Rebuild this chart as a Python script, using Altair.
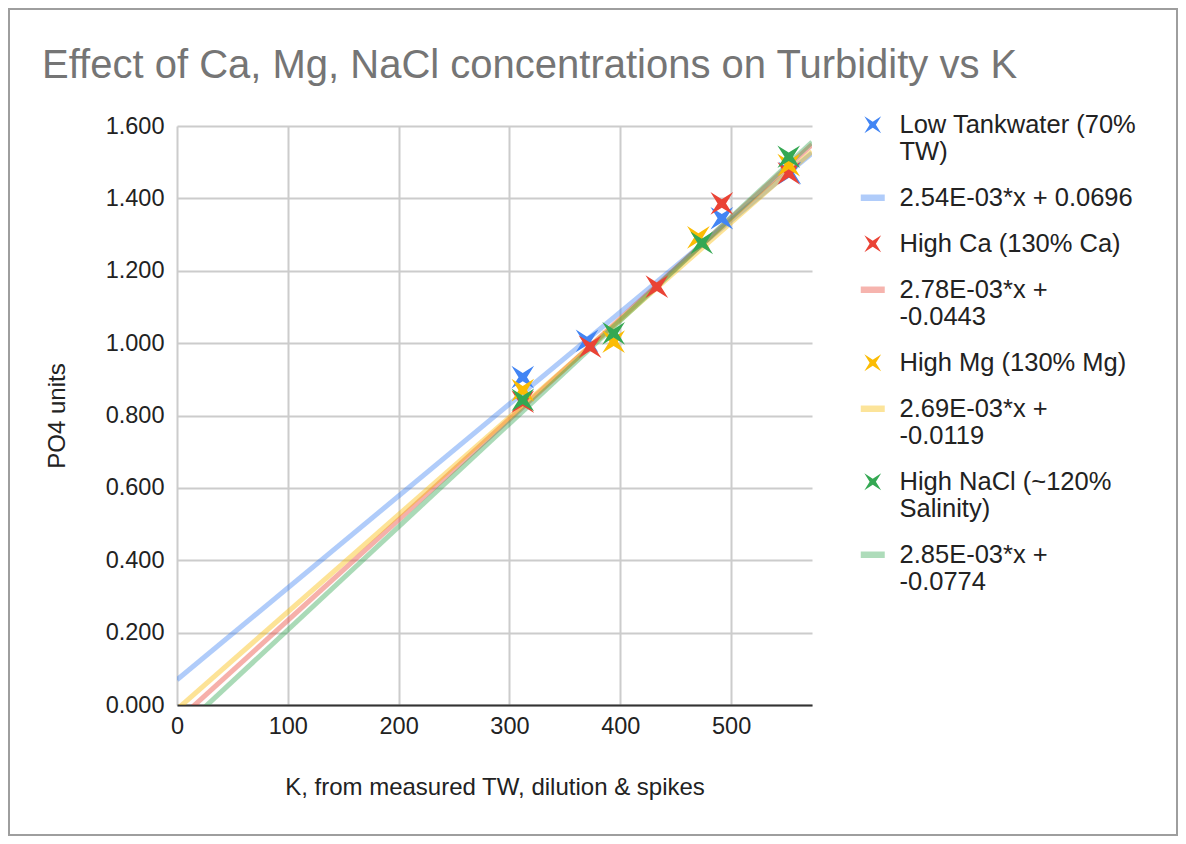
import altair as alt
import pandas as pd

# ---------------- data ----------------
series = ["Low Tankwater (70% TW)", "High Ca (130% Ca)", "High Mg (130% Mg)",
          "High NaCl (~120% Salinity)"]
series_legend = ["Low Tankwater (70%|TW)", "High Ca (130% Ca)", "High Mg (130% Mg)",
                 "High NaCl (~120%|Salinity)"]
eq_legend = ["2.54E-03*x + 0.0696", "2.78E-03*x +|-0.0443", "2.69E-03*x +|-0.0119",
             "2.85E-03*x +|-0.0774"]
slopes = [2.54e-3, 2.78e-3, 2.69e-3, 2.85e-3]
intercepts = [0.0696, -0.0443, -0.0119, -0.0774]

low_tw_k = [312, 370, 491.6, 553]
low_tw_po4 = [0.906, 1.006, 1.345, 1.470]
high_ca_k = [312, 372.7, 433, 491.6, 552]
high_ca_po4 = [0.838, 0.990, 1.156, 1.386, 1.469]
high_mg_k = [312, 394, 470.5, 552]
high_mg_po4 = [0.870, 1.004, 1.292, 1.492]
high_nacl_k = [312, 394, 473.5, 552]
high_nacl_po4 = [0.843, 1.027, 1.277, 1.515]

x_ticks = [0, 100, 200, 300, 400, 500]
y_ticks = [0, 0.2, 0.4, 0.6, 0.8, 1.0, 1.2, 1.4, 1.6]
x_max = 573
y_max = 1.6

base_colors = ["#4285F4", "#EA4335", "#FBBC04", "#34A853"]
light_colors = ["#B0CCFA", "#F6B4AE", "#FCE49A", "#AEDCBA"]

STAR = "M0,-0.26L0.7,-0.7L0.26,0L0.7,0.7L0,0.26L-0.7,0.7L-0.26,0L-0.7,-0.7Z"
BAR = "M-1,-0.27L1,-0.27L1,0.27L-1,0.27Z"

FONT = "Liberation Sans"

# ---------------- tables ----------------
ks = [low_tw_k, high_ca_k, high_mg_k, high_nacl_k]
pos = [low_tw_po4, high_ca_po4, high_mg_po4, high_nacl_po4]
rows = []
for name, kk, pp in zip(series_legend, ks, pos):
    for k, p in zip(kk, pp):
        rows.append({"name": name, "K": k, "PO4": p})
points_df = pd.DataFrame(rows)

line_rows = []
for name, m, b in zip(eq_legend, slopes, intercepts):
    for xv in (0, x_max):
        line_rows.append({"eq": name, "K": xv, "PO4": m * xv + b})
lines_df = pd.DataFrame(line_rows)

legend_domain = []
legend_colors = []
legend_shapes = []
for s, e, c, lc in zip(series_legend, eq_legend, base_colors, light_colors):
    legend_domain += [s, e]
    legend_colors += [c, lc]
    legend_shapes += [STAR, BAR]

x_enc = alt.X("K:Q", scale=alt.Scale(domain=[0, x_max], nice=False, zero=True),
              axis=alt.Axis(values=x_ticks, title="K, from measured TW, dilution & spikes",
                            format="d", labelFlush=False))
y_enc = alt.Y("PO4:Q", scale=alt.Scale(domain=[0, y_max], nice=False),
              axis=alt.Axis(values=y_ticks, format=".3f", title="PO4 units",
                            labelFlush=False))

lines = alt.Chart(lines_df).mark_line(strokeWidth=5, opacity=0.42, clip=True).encode(
    x=x_enc, y=y_enc,
    stroke=alt.Stroke("eq:N", scale=alt.Scale(domain=eq_legend, range=base_colors),
                      legend=None),
    detail="eq:N",
)


def make_legend():
    return alt.Legend(title=None, orient="none", legendX=683, legendY=-14,
                      labelExpr="split(datum.label, '|')",
                      labelFontSize=25.5, labelFont=FONT, labelColor="#222222",
                      labelLimit=400, labelOffset=14,
                      symbolSize=576, symbolStrokeWidth=0, symbolOpacity=1,
                      rowPadding=19, padding=0)


pts = alt.Chart(points_df).mark_point(filled=True, opacity=1, size=1050, strokeWidth=0).encode(
    x=x_enc, y=y_enc,
    color=alt.Color("name:N", scale=alt.Scale(domain=legend_domain, range=legend_colors),
                    legend=make_legend()),
    shape=alt.Shape("name:N", scale=alt.Scale(domain=legend_domain, range=legend_shapes),
                    legend=make_legend()),
)

border = alt.Chart(pd.DataFrame({"a": [0]})).mark_rect(
    fill=None, stroke="#9E9E9E", strokeWidth=2, clip=False).encode(
    x=alt.value(-168), x2=alt.value(1000), y=alt.value(-117), y2=alt.value(709))

chart = alt.layer(border, lines, pts).properties(
    width=635, height=579,
    autosize=alt.AutoSizeParams(type="none"),
    padding={"left": 169, "top": 118, "right": 366, "bottom": 131},
    title=alt.TitleParams("Effect of Ca, Mg, NaCl concentrations on Turbidity vs K",
                          anchor="start", frame="group", fontSize=40, font=FONT,
                          fontWeight="normal", color="#757575", dx=-135, offset=0,
                          dy=78),
).configure_view(stroke=None).configure_axis(
    labelFont=FONT, titleFont=FONT, labelFontSize=23.5, titleFontSize=24,
    labelColor="#222222", titleColor="#222222", titleFontWeight="normal",
    gridColor="#CCCCCC", gridWidth=2, ticks=False,
).configure_axisX(
    domainColor="#333333", domainWidth=2, labelPadding=9, titlePadding=38,
).configure_axisY(
    domain=False, labelPadding=13, titlePadding=36,
)

chart.save("out.html", embed_options={"renderer": "svg", "actions": False})
